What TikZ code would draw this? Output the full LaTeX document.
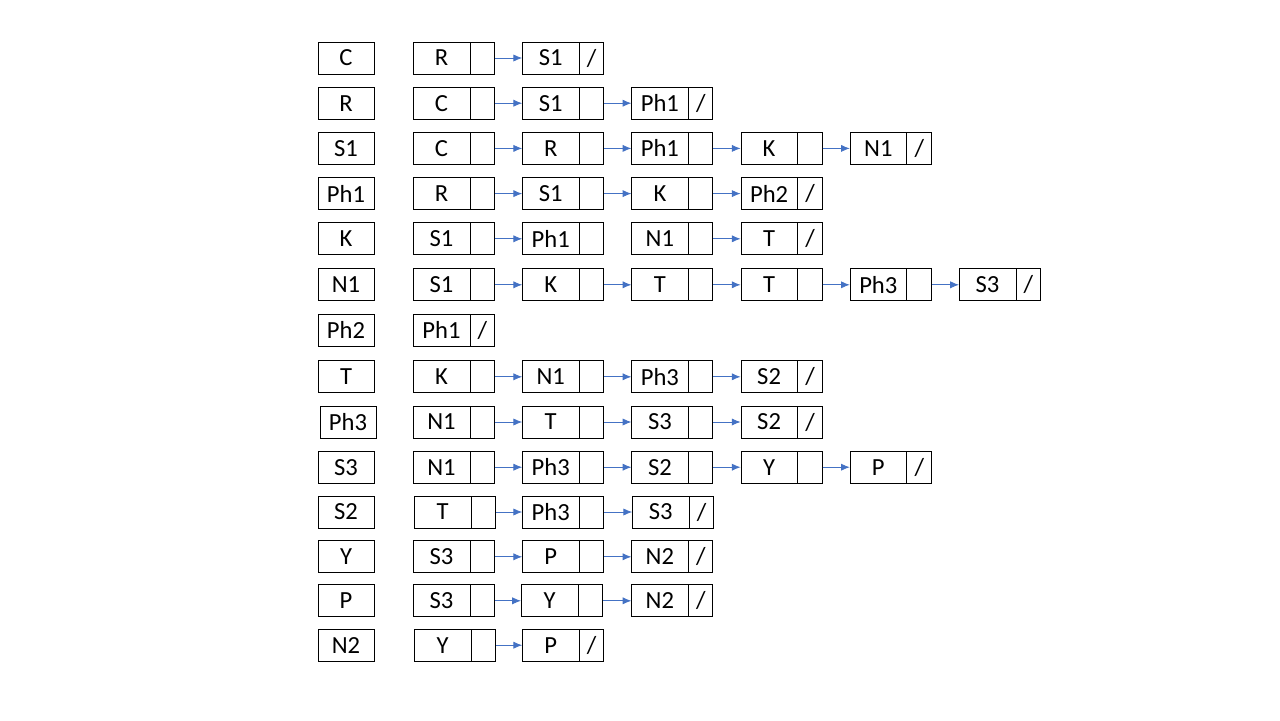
\documentclass[tikz,border=0pt]{standalone}
\usepackage{fontspec}
\setmainfont{Carlito}
\usetikzlibrary{arrows.meta,shapes.multipart}
\definecolor{linkblue}{RGB}{68,114,196}
\newcommand{\cellparts}[2]{\makebox[1.4cm]{#1}\nodepart{two}\makebox[0.6cm]{#2}}

\begin{document}
\begin{tikzpicture}[line width=0.7pt,font=\fontsize{17.5}{21}\selectfont]
      \useasboundingbox (0,0) rectangle (32,-18);

      \tikzstyle{vert}=[rectangle,draw,minimum width=1.4cm,
        minimum height=0.8cm,inner sep=0pt]
      \tikzstyle{cell}=[rectangle split,rectangle split horizontal,
        rectangle split parts=2,draw,inner xsep=0pt,inner ysep=0pt,
        minimum height=0.8cm]
      \tikzstyle{link}=[-{Latex[length=2.2mm,width=1.8mm]},draw=linkblue,
        fill=linkblue,line width=0.6pt]

      % vertices
      \node[vert] (vC)   at (8.65,-1.45)  {C};
      \node[vert] (vR)   at (8.65,-2.58)  {R};
      \node[vert] (vS1)  at (8.65,-3.71)  {S1};
      \node[vert] (vPh1) at (8.65,-4.84)  {Ph1};
      \node[vert] (vK)   at (8.65,-5.97)  {K};
      \node[vert] (vN1)  at (8.65,-7.12)  {N1};
      \node[vert] (vPh2) at (8.65,-8.25)  {Ph2};
      \node[vert] (vT)   at (8.65,-9.42)  {T};
      \node[vert] (vPh3) at (8.70,-10.55) {Ph3};
      \node[vert] (vS3)  at (8.65,-11.68) {S3};
      \node[vert] (vS2)  at (8.65,-12.80) {S2};
      \node[vert] (vY)   at (8.65,-13.92) {Y};
      \node[vert] (vP)   at (8.65,-15.02) {P};
      \node[vert] (vN2)  at (8.65,-16.13) {N2};

      % adjacency lists
      \node[cell] (a1) at (11.35,-1.45) {\cellparts{R}{}};
      \node[cell] (a2) at (14.08,-1.45) {\cellparts{S1}{/}};

      \node[cell] (b1) at (11.35,-2.58) {\cellparts{C}{}};
      \node[cell] (b2) at (14.08,-2.58) {\cellparts{S1}{}};
      \node[cell] (b3) at (16.81,-2.58) {\cellparts{Ph1}{/}};

      \node[cell] (c1) at (11.35,-3.71) {\cellparts{C}{}};
      \node[cell] (c2) at (14.08,-3.71) {\cellparts{R}{}};
      \node[cell] (c3) at (16.81,-3.71) {\cellparts{Ph1}{}};
      \node[cell] (c4) at (19.54,-3.71) {\cellparts{K}{}};
      \node[cell] (c5) at (22.27,-3.71) {\cellparts{N1}{/}};

      \node[cell] (d1) at (11.35,-4.84) {\cellparts{R}{}};
      \node[cell] (d2) at (14.08,-4.84) {\cellparts{S1}{}};
      \node[cell] (d3) at (16.81,-4.84) {\cellparts{K}{}};
      \node[cell] (d4) at (19.54,-4.84) {\cellparts{Ph2}{/}};

      \node[cell] (e1) at (11.35,-5.97) {\cellparts{S1}{}};
      \node[cell] (e2) at (14.08,-5.97) {\cellparts{Ph1}{}};
      \node[cell] (e3) at (16.81,-5.97) {\cellparts{N1}{}};
      \node[cell] (e4) at (19.54,-5.97) {\cellparts{T}{/}};

      \node[cell] (f1) at (11.35,-7.12) {\cellparts{S1}{}};
      \node[cell] (f2) at (14.08,-7.12) {\cellparts{K}{}};
      \node[cell] (f3) at (16.81,-7.12) {\cellparts{T}{}};
      \node[cell] (f4) at (19.54,-7.12) {\cellparts{T}{}};
      \node[cell] (f5) at (22.27,-7.12) {\cellparts{Ph3}{}};
      \node[cell] (f6) at (25.00,-7.12) {\cellparts{S3}{/}};

      \node[cell] (g1) at (11.35,-8.25) {\cellparts{Ph1}{/}};

      \node[cell] (h1) at (11.35,-9.42) {\cellparts{K}{}};
      \node[cell] (h2) at (14.08,-9.42) {\cellparts{N1}{}};
      \node[cell] (h3) at (16.81,-9.42) {\cellparts{Ph3}{}};
      \node[cell] (h4) at (19.54,-9.42) {\cellparts{S2}{/}};

      \node[cell] (i1) at (11.35,-10.55) {\cellparts{N1}{}};
      \node[cell] (i2) at (14.08,-10.55) {\cellparts{T}{}};
      \node[cell] (i3) at (16.81,-10.55) {\cellparts{S3}{}};
      \node[cell] (i4) at (19.54,-10.55) {\cellparts{S2}{/}};

      \node[cell] (j1) at (11.35,-11.68) {\cellparts{N1}{}};
      \node[cell] (j2) at (14.08,-11.68) {\cellparts{Ph3}{}};
      \node[cell] (j3) at (16.81,-11.68) {\cellparts{S2}{}};
      \node[cell] (j4) at (19.54,-11.68) {\cellparts{Y}{}};
      \node[cell] (j5) at (22.27,-11.68) {\cellparts{P}{/}};

      \node[cell] (k1) at (11.38,-12.80) {\cellparts{T}{}};
      \node[cell] (k2) at (14.08,-12.80) {\cellparts{Ph3}{}};
      \node[cell] (k3) at (16.83,-12.80) {\cellparts{S3}{/}};

      \node[cell] (l1) at (11.35,-13.92) {\cellparts{S3}{}};
      \node[cell] (l2) at (14.08,-13.92) {\cellparts{P}{}};
      \node[cell] (l3) at (16.81,-13.92) {\cellparts{N2}{/}};

      \node[cell] (m1) at (11.35,-15.02) {\cellparts{S3}{}};
      \node[cell] (m2) at (14.05,-15.02) {\cellparts{Y}{}};
      \node[cell] (m3) at (16.81,-15.02) {\cellparts{N2}{/}};

      \node[cell] (n1) at (11.38,-16.13) {\cellparts{Y}{}};
      \node[cell] (n2) at (14.08,-16.13) {\cellparts{P}{/}};

      % next pointers
      \draw[link] (a1) -- (a2);
      \draw[link] (b1) -- (b2);
      \draw[link] (b2) -- (b3);
      \draw[link] (c1) -- (c2);
      \draw[link] (c2) -- (c3);
      \draw[link] (c3) -- (c4);
      \draw[link] (c4) -- (c5);
      \draw[link] (d1) -- (d2);
      \draw[link] (d2) -- (d3);
      \draw[link] (d3) -- (d4);
      \draw[link] (e1) -- (e2);
      \draw[link] (e3) -- (e4);
      \draw[link] (f1) -- (f2);
      \draw[link] (f2) -- (f3);
      \draw[link] (f3) -- (f4);
      \draw[link] (f4) -- (f5);
      \draw[link] (f5) -- (f6);
      \draw[link] (h1) -- (h2);
      \draw[link] (h2) -- (h3);
      \draw[link] (h3) -- (h4);
      \draw[link] (i1) -- (i2);
      \draw[link] (i2) -- (i3);
      \draw[link] (i3) -- (i4);
      \draw[link] (j1) -- (j2);
      \draw[link] (j2) -- (j3);
      \draw[link] (j3) -- (j4);
      \draw[link] (j4) -- (j5);
      \draw[link] (k1) -- (k2);
      \draw[link] (k2) -- (k3);
      \draw[link] (l1) -- (l2);
      \draw[link] (l2) -- (l3);
      \draw[link] (m1) -- (m2);
      \draw[link] (m2) -- (m3);
      \draw[link] (n1) -- (n2);
    \end{tikzpicture}
\end{document}
